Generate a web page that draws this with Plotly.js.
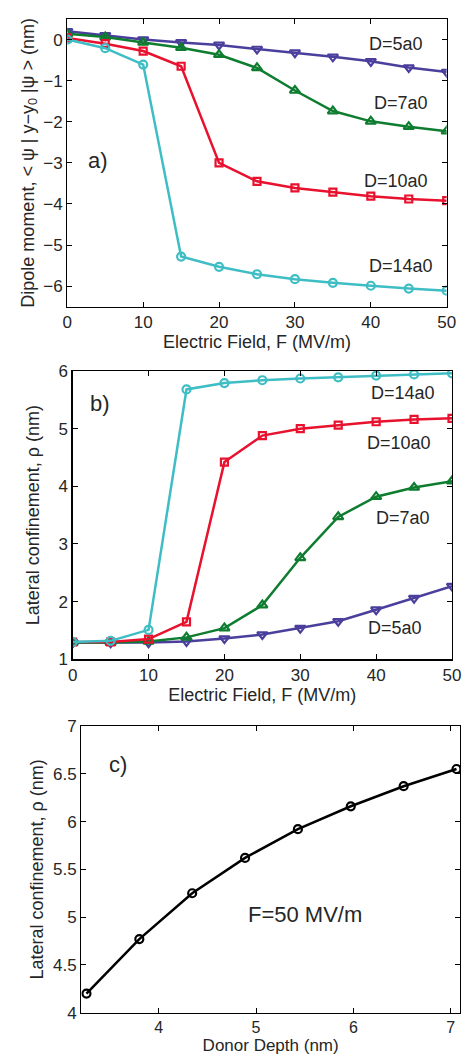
<!DOCTYPE html>
<html>
<head>
<meta charset="utf-8">
<script src="https://cdn.plot.ly/plotly-3.0.1.min.js"></script>
<style>html,body{margin:0;padding:0;background:#fff}#chart{width:465px;height:1055px}</style>
</head>
<body>
<div id="chart"></div>
<script>
// ---- data ----
const fieldMVm = [0, 5, 10, 15, 20, 25, 30, 35, 40, 45, 50];

// panel a: dipole moment (nm)
const dipoleD5  = [0.20, 0.10, 0.00, -0.07, -0.13, -0.23, -0.32, -0.42, -0.53, -0.68, -0.79];
const dipoleD7  = [0.14, 0.06, -0.07, -0.20, -0.37, -0.69, -1.24, -1.74, -1.99, -2.12, -2.23];
const dipoleD10 = [0.04, -0.10, -0.28, -0.65, -3.00, -3.45, -3.61, -3.71, -3.81, -3.88, -3.92];
const dipoleD14 = [0.00, -0.21, -0.61, -5.28, -5.53, -5.71, -5.83, -5.92, -5.99, -6.06, -6.11];

// panel b: lateral confinement (nm)
const rhoD14 = [1.30, 1.32, 1.51, 5.68, 5.79, 5.84, 5.87, 5.89, 5.92, 5.94, 5.96];
const rhoD10 = [1.30, 1.30, 1.35, 1.65, 4.42, 4.88, 5.00, 5.06, 5.12, 5.16, 5.18];
const rhoD7  = [1.29, 1.29, 1.31, 1.38, 1.54, 1.94, 2.76, 3.47, 3.82, 3.98, 4.09];
const rhoD5  = [1.29, 1.29, 1.29, 1.31, 1.36, 1.43, 1.54, 1.66, 1.86, 2.06, 2.27];

// panel c: lateral confinement vs donor depth at F=50 MV/m
const donorDepthNm = [3.258, 3.801, 4.344, 4.887, 5.430, 5.973, 6.516, 7.059];
const rhoAtF50     = [4.20, 4.77, 5.25, 5.62, 5.92, 6.16, 6.37, 6.55];

const seriesLabels = ["D=5a0", "D=7a0", "D=10a0", "D=14a0"];

// ---- styles ----
const C = {blue: "#4a3f9c", green: "#0e7d30", red: "#e8112e", cyan: "#3ebdc4"};
function tr(x, y, color, sym, xa, ya, size) {
  return {x: x, y: y, xaxis: xa, yaxis: ya, type: "scatter", mode: "lines+markers",
    line: {color: color, width: 2.5},
    marker: {symbol: sym, size: size || 9, color: color, line: {color: color, width: 2.2}},
    showlegend: false, hoverinfo: "skip"};
}
const data = [
  tr(fieldMVm, dipoleD5, C.blue, "triangle-down-open", "x", "y"),
  tr(fieldMVm, dipoleD7, C.green, "triangle-up-open", "x", "y"),
  tr(fieldMVm, dipoleD10, C.red, "square-open", "x", "y", 7),
  tr(fieldMVm, dipoleD14, C.cyan, "circle-open", "x", "y", 8),
  tr(fieldMVm, rhoD5, C.blue, "triangle-down-open", "x2", "y2"),
  tr(fieldMVm, rhoD7, C.green, "triangle-up-open", "x2", "y2"),
  tr(fieldMVm, rhoD10, C.red, "square-open", "x2", "y2", 7),
  tr(fieldMVm, rhoD14, C.cyan, "circle-open", "x2", "y2", 8),
  tr(donorDepthNm, rhoAtF50, "#000000", "circle-open", "x3", "y3", 8)
];

const W = 465, H = 1055;
const FAM = "Liberation Sans, Arial, sans-serif";
const TXT = "#262626";
const tickF = {family: FAM, size: 17, color: TXT};
const titleF = {family: FAM, size: 18, color: TXT};
function ax(extra) {
  return Object.assign({
    showline: true, linecolor: "#000", linewidth: 1.3, mirror: "ticks",
    ticks: "inside", ticklen: 5, tickcolor: "#000", showgrid: false, zeroline: false,
    tickfont: tickF, automargin: false
  }, extra);
}
const dx = a => [a[0] / W, a[1] / W];
const dy = a => [1 - a[1] / H, 1 - a[0] / H];

const layout = {
  width: W, height: H, margin: {l: 0, r: 0, t: 0, b: 0},
  paper_bgcolor: "#fff", plot_bgcolor: "#fff", font: {family: FAM, size: 17, color: TXT},
  xaxis: ax({domain: dx([67.3, 446.7]), range: [0, 50], tickvals: [0,10,20,30,40,50], anchor: "y",
    title: {text: "Electric Field, F (MV/m)", font: titleF, standoff: 0}}),
  yaxis: ax({domain: dy([19, 306.7]), range: [-6.5, 0.5], tickvals: [-6,-5,-4,-3,-2,-1,0], anchor: "x",
    title: {text: "Dipole moment, < ψ | y−y<sub>0</sub> |ψ > (nm)", font: titleF, standoff: 4}}),
  xaxis2: ax({domain: dx([72.7, 452]), range: [0, 50], tickvals: [0,10,20,30,40,50], anchor: "y2",
    title: {text: "Electric Field, F (MV/m)", font: titleF, standoff: 0}}),
  yaxis2: ax({domain: dy([371, 659.3]), range: [1, 6], tickvals: [1,2,3,4,5,6], anchor: "x2",
    title: {text: "Lateral confinement, ρ (nm)", font: titleF, standoff: 14}}),
  xaxis3: ax({domain: dx([81.3, 460]), range: [3.205, 7.095], tickvals: [4,5,6,7], anchor: "y3",
    tickfont: {family: FAM, size: 16, color: TXT}, ticklabelstandoff: 0,
    title: {text: "Donor Depth (nm)", font: {family: FAM, size: 17, color: TXT}, standoff: 0}}),
  yaxis3: ax({domain: dy([726, 1012.7]), range: [4, 7], tickvals: [4,4.5,5,5.5,6,6.5,7], anchor: "x3",
    title: {text: "Lateral confinement, ρ (nm)", font: titleF, standoff: 4}}),
  annotations: []
};
function ann(text, xa, ya, x, y, size) {
  layout.annotations.push({text: text, xref: xa, yref: ya, x: x, y: y, showarrow: false,
    font: {family: FAM, size: size || 18, color: TXT}});
}
ann(seriesLabels[0], "x", "y", 43.3, -0.1);
ann(seriesLabels[1], "x", "y", 44.0, -1.55);
ann(seriesLabels[2], "x", "y", 43.3, -3.45);
ann(seriesLabels[3], "x", "y", 44.0, -5.5);
ann("a)", "x", "y", 4.1, -2.95, 22);
ann(seriesLabels[3], "x2", "y2", 43.5, 5.62);
ann(seriesLabels[2], "x2", "y2", 43.0, 4.75);
ann(seriesLabels[1], "x2", "y2", 43.5, 3.45);
ann(seriesLabels[0], "x2", "y2", 42.5, 1.55);
ann("b)", "x2", "y2", 3.6, 5.43, 22);
ann("c)", "x3", "y3", 3.58, 6.6, 22);
ann("F=50 MV/m", "x3", "y3", 5.5, 5.03, 22);

Plotly.newPlot("chart", data, layout, {staticPlot: true});
</script>
</body>
</html>
